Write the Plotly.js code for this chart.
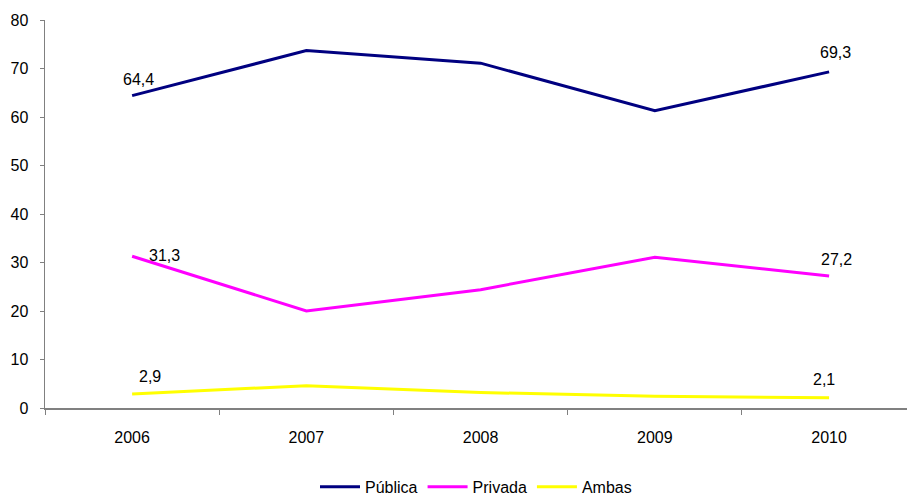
<!DOCTYPE html>
<html>
<head>
<meta charset="utf-8">
<script src="https://cdn.plot.ly/plotly-3.0.1.min.js"></script>
<style>html,body{margin:0;padding:0;background:#fff;}#chart{width:907px;height:498px;}</style>
</head>
<body>
<div id="chart"></div>
<script>
const years = ['2006', '2007', '2008', '2009', '2010'];
const publica = [64.4, 73.7, 71.1, 61.3, 69.3];
const privada = [31.3, 20.0, 24.4, 31.1, 27.2];
const ambas = [2.9, 4.6, 3.2, 2.4, 2.1];
const seriesNames = ['Pública', 'Privada', 'Ambas'];
const yTicks = [0, 10, 20, 30, 40, 50, 60, 70, 80];

const fmt = v => v.toFixed(1).replace('.', ',');
const font = {family: 'Liberation Sans, Arial, sans-serif', size: 16, color: '#000'};

const traces = [
  {x: years, y: publica, name: seriesNames[0], color: '#000080'},
  {x: years, y: privada, name: seriesNames[1], color: '#FF00FF'},
  {x: years, y: ambas, name: seriesNames[2], color: '#FFFF00'}
].map(s => ({
  type: 'scatter', mode: 'lines', x: s.x, y: s.y, name: s.name,
  line: {color: s.color, width: 3}, hoverinfo: 'skip'
}));

const last = years.length - 1;
// annotation x uses the category index on the category axis
const ann = [
  {i: 0, y: publica[0], xshift: 6, yshift: 16},
  {i: last, y: publica[last], xshift: 6, yshift: 19},
  {i: 0, y: privada[0], xshift: 32, yshift: 1},
  {i: last, y: privada[last], xshift: 7, yshift: 17},
  {i: 0, y: ambas[0], xshift: 18, yshift: 17},
  {i: last, y: ambas[last], xshift: -5, yshift: 18}
];
const annotations = ann.map(a => ({
  x: a.i, y: a.y, xref: 'x', yref: 'y', text: fmt(a.y), showarrow: false,
  xshift: a.xshift, yshift: a.yshift, font: font
}));

const layout = {
  width: 907, height: 498,
  margin: {l: 45, r: 0, t: 20, b: 90, autoexpand: false},
  paper_bgcolor: '#fff', plot_bgcolor: '#fff',
  font: font,
  showlegend: true,
  legend: {orientation: 'h', x: 0.5, xanchor: 'center', y: -0.203, yanchor: 'middle',
           font: font, itemwidth: 40, tracegroupgap: 0},
  xaxis: {
    type: 'category', range: [-0.5, 4.447], tickson: 'boundaries',
    ticks: 'outside', ticklen: 5, tickcolor: '#808080', tickwidth: 1,
    showline: true, linecolor: '#808080', linewidth: 1.5,
    showgrid: false, zeroline: false, ticklabelstandoff: 14,
    tickfont: font, fixedrange: true, automargin: false
  },
  yaxis: {
    range: [0, 80], tickvals: yTicks, ticktext: yTicks.map(String),
    ticks: 'outside', ticklen: 4, tickcolor: '#808080', tickwidth: 1,
    showline: true, linecolor: '#808080', linewidth: 1.5,
    showgrid: false, zeroline: false, ticklabelstandoff: 8,
    tickfont: font, fixedrange: true, automargin: false
  },
  annotations: annotations
};

Plotly.newPlot('chart', traces, layout, {displayModeBar: false, staticPlot: true});
</script>
</body>
</html>
